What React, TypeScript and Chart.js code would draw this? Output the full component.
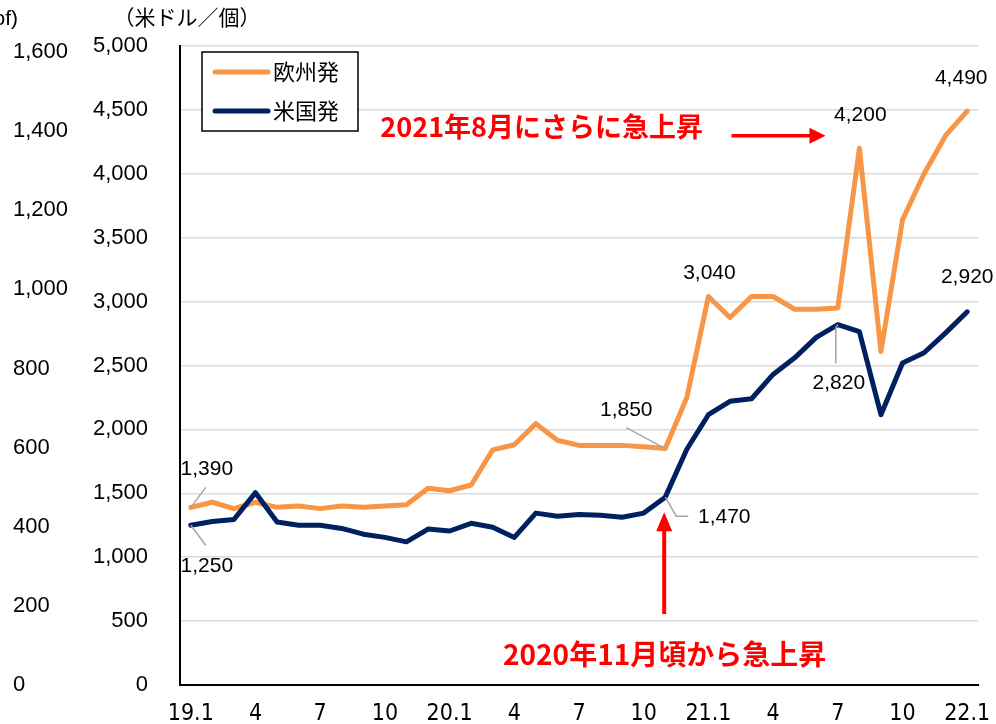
import React, { useEffect, useRef } from "react";
import { Chart, registerables } from "chart.js";

Chart.register(...registerables);

// ---- data ----
const categories = [
  "19.1", "2", "3", "4", "5", "6", "7", "8", "9", "10", "11", "12",
  "20.1", "2", "3", "4", "5", "6", "7", "8", "9", "10", "11", "12",
  "21.1", "2", "3", "4", "5", "6", "7", "8", "9", "10", "11", "12",
  "22.1",
];

const euValues = [
  1390, 1430, 1380, 1430, 1390, 1400, 1380, 1400, 1390, 1400, 1410, 1540,
  1520, 1565, 1840, 1880, 2045, 1915, 1875, 1875, 1875, 1865, 1850, 2250,
  3040, 2875, 3040, 3040, 2940, 2940, 2950, 4200, 2610, 3640, 4000, 4300,
  4490,
];

const usValues = [
  1250, 1280, 1295, 1505, 1275, 1250, 1250, 1225, 1180, 1155, 1120, 1220,
  1205, 1265, 1235, 1155, 1345, 1320, 1335, 1328, 1312, 1345, 1470, 1845,
  2115, 2220, 2240, 2430, 2560, 2720, 2820, 2765, 2115, 2520, 2600, 2755,
  2920,
];

const seriesNames = ["欧州発", "米国発"];
const leftAxisTicks = [0, 200, 400, 600, 800, 1000, 1200, 1400, 1600];
const unitLabel = "（米ドル／個）";
const cutLabel = "of)";
const note1 = "2021年8月にさらに急上昇";
const note2 = "2020年11月頃から急上昇";

// callouts: which point gets a value label, and where
const euCallouts = [
  { i: 0, dx: 16, dy: -38, leader: [[15, -20]] },
  { i: 22, dx: -39, dy: -38, leader: [[-39, -21]] },
  { i: 24, dx: 1, dy: -23, leader: [] },
  { i: 31, dx: 1, dy: -33, leader: [] },
  { i: 36, dx: -6, dy: -33, leader: [] },
];
const usCallouts = [
  { i: 0, dx: 16, dy: 41, leader: [[15, 20]] },
  { i: 22, dx: 59, dy: 20, leader: [[11, 19], [23, 19]] },
  { i: 30, dx: 1, dy: 59, leader: [[-2, 3], [-2, 39]] },
  { i: 36, dx: 0, dy: -35, leader: [] },
];

const ORANGE = "#F79646";
const NAVY = "#002060";
const RED = "#FF0000";

const fmt = (v: number) => v.toLocaleString("en-US");

const annotationPlugin = {
  id: "annotations",
  afterDraw(chart: any) {
    const { ctx, scales } = chart;
    const xs = scales.x;
    const ys = scales.y;
    ctx.save();

    // unit label + cut-off label
    ctx.fillStyle = "#000";
    ctx.textBaseline = "middle";
    ctx.font = '21px "Noto Sans CJK JP"';
    ctx.textAlign = "center";
    ctx.fillText(unitLabel, 187, 17);
    ctx.font = '21px "Liberation Sans", Arial, sans-serif';
    ctx.textAlign = "right";
    ctx.fillText(cutLabel, 18, 19);

    // value callouts
    const drawCallouts = (dsIndex: number, values: number[], list: any[]) => {
      const meta = chart.getDatasetMeta(dsIndex);
      list.forEach((c) => {
        const pt = meta.data[c.i];
        const px = pt.x;
        const py = pt.y;
        if (c.leader.length) {
          ctx.strokeStyle = "#a6a6a6";
          ctx.lineWidth = 1.5;
          ctx.beginPath();
          ctx.moveTo(px, py);
          c.leader.forEach((p: number[]) => ctx.lineTo(px + p[0], py + p[1]));
          ctx.stroke();
        }
        ctx.fillStyle = "#000";
        ctx.font = '21px "Liberation Sans", Arial, sans-serif';
        ctx.textAlign = "center";
        ctx.textBaseline = "middle";
        ctx.fillText(fmt(values[c.i]), px + c.dx, py + c.dy);
      });
    };
    drawCallouts(0, euValues, euCallouts);
    drawCallouts(1, usValues, usCallouts);

    // red notes
    ctx.fillStyle = RED;
    ctx.strokeStyle = RED;
    ctx.textAlign = "center";
    ctx.textBaseline = "middle";
    ctx.font = 'bold 27px "Noto Sans CJK JP"';
    ctx.fillText(note1, xs.getPixelForValue(16.27), ys.getPixelForValue(4367));
    ctx.font = 'bold 28px "Noto Sans CJK JP"';
    ctx.fillText(note2, xs.getPixelForValue(21.97), ys.getPixelForValue(242));

    // horizontal arrow
    const ax0 = xs.getPixelForValue(25.07);
    const ax1 = xs.getPixelForValue(29.43);
    const ay = ys.getPixelForValue(4297);
    ctx.lineWidth = 3.5;
    ctx.beginPath();
    ctx.moveTo(ax0, ay);
    ctx.lineTo(ax1 - 14, ay);
    ctx.stroke();
    ctx.beginPath();
    ctx.moveTo(ax1, ay);
    ctx.lineTo(ax1 - 16, ay - 8);
    ctx.lineTo(ax1 - 16, ay + 8);
    ctx.closePath();
    ctx.fill();

    // vertical arrow
    const vx = xs.getPixelForValue(21.95);
    const vy0 = ys.getPixelForValue(555);
    const vy1 = ys.getPixelForValue(1352);
    ctx.lineWidth = 4;
    ctx.beginPath();
    ctx.moveTo(vx, vy0);
    ctx.lineTo(vx, vy1 + 16);
    ctx.stroke();
    ctx.beginPath();
    ctx.moveTo(vx, vy1);
    ctx.lineTo(vx - 8, vy1 + 19);
    ctx.lineTo(vx + 8, vy1 + 19);
    ctx.closePath();
    ctx.fill();

    // legend
    const ca = chart.chartArea;
    const lx = ca.left + 22;
    const ly = ca.top + 6;
    ctx.fillStyle = "#fff";
    ctx.fillRect(lx, ly, 156, 79);
    ctx.strokeStyle = "#000";
    ctx.lineWidth = 1.5;
    ctx.strokeRect(lx, ly, 156, 79);
    const colors = [ORANGE, NAVY];
    seriesNames.forEach((name, k) => {
      const yy = ly + 20 + k * 39;
      ctx.strokeStyle = colors[k];
      ctx.lineWidth = 5;
      ctx.lineCap = "round";
      ctx.beginPath();
      ctx.moveTo(lx + 13, yy);
      ctx.lineTo(lx + 66, yy);
      ctx.stroke();
      ctx.fillStyle = "#000";
      ctx.font = '22px "Noto Sans CJK JP"';
      ctx.textAlign = "left";
      ctx.textBaseline = "middle";
      ctx.fillText(name, lx + 71, yy);
    });
    ctx.restore();
  },
};

export default function App() {
  const ref = useRef<HTMLCanvasElement | null>(null);

  useEffect(() => {
    document.body.style.margin = "0";
    if (!ref.current) return;
    const chart = new Chart(ref.current, {
      type: "line",
      data: {
        labels: categories,
        datasets: [
          {
            label: seriesNames[0],
            data: euValues,
            borderColor: ORANGE,
            backgroundColor: ORANGE,
            borderWidth: 5,
            pointRadius: 0,
            tension: 0,
            borderJoinStyle: "round",
            borderCapStyle: "round",
            yAxisID: "y",
            order: 1,
          },
          {
            label: seriesNames[1],
            data: usValues,
            borderColor: NAVY,
            backgroundColor: NAVY,
            borderWidth: 5,
            pointRadius: 0,
            tension: 0,
            borderJoinStyle: "round",
            borderCapStyle: "round",
            yAxisID: "y",
            order: 0,
          },
        ],
      },
      options: {
        responsive: false,
        animation: false,
        layout: { padding: { left: 13, right: 18, top: 46, bottom: 0 } },
        plugins: {
          legend: { display: false },
          tooltip: { enabled: false },
        },
        scales: {
          x: {
            type: "category",
            offset: true,
            grid: {
              display: true,
              drawOnChartArea: false,
              drawTicks: true,
              tickLength: 15,
              tickColor: "rgba(0,0,0,0)",
              color: "rgba(0,0,0,0)",
            },
            border: { display: true, color: "#000", width: 2 },
            ticks: {
              autoSkip: false,
              maxRotation: 0,
              padding: 0,
              color: "#000",
              font: { family: '"Liberation Sans Narrow", "DejaVu Sans Condensed", sans-serif', size: 23 },
              callback: (_v: any, i: number) => (i % 3 === 0 ? categories[i] : null),
            },
            afterFit: (s: any) => {
              s.height = 39;
            },
          },
          y: {
            position: "left",
            weight: 0,
            min: 0,
            max: 5000,
            grid: {
              color: "#d9d9d9",
              lineWidth: 1.5,
              drawTicks: true,
              tickLength: 32,
              tickColor: "rgba(0,0,0,0)",
            },
            border: { display: true, color: "#000", width: 2 },
            ticks: {
              stepSize: 500,
              padding: 0,
              color: "#000",
              font: { family: '"Liberation Sans", Arial, sans-serif', size: 22 },
              callback: (v: any) => fmt(Number(v)),
            },
            afterFit: (s: any) => {
              s.width = 90;
            },
          },
          yLeft: {
            position: "left",
            weight: 1,
            min: 0,
            max: 1615,
            grid: { display: false },
            border: { display: false },
            afterBuildTicks: (s: any) => {
              s.ticks = leftAxisTicks.map((v) => ({ value: v }));
            },
            ticks: {
              crossAlign: "far",
              padding: 0,
              color: "#000",
              font: { family: '"Liberation Sans", Arial, sans-serif', size: 22 },
              callback: (v: any) => fmt(Number(v)),
            },
            afterFit: (s: any) => {
              s.width = 77;
            },
          },
        },
      } as any,
      plugins: [annotationPlugin],
    });
    return () => chart.destroy();
  }, []);

  return (
    <div style={{ width: 996, height: 724, background: "#fff" }}>
      <canvas ref={ref} width={996} height={724} style={{ display: "block" }} />
    </div>
  );
}
